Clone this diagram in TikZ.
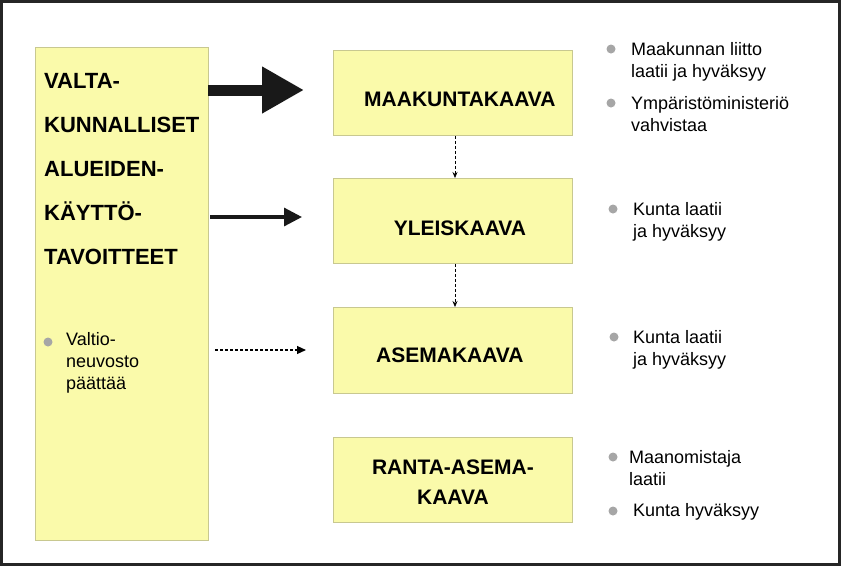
\documentclass[tikz,border=0pt]{standalone}
\usepackage{fontspec}
\setmainfont{Liberation Sans}
\usetikzlibrary{arrows.meta}
\definecolor{yfill}{HTML}{FAFAAA}
\definecolor{yline}{HTML}{C8C890}
\begin{document}
\begin{tikzpicture}[x=1pt,y=-1pt,
  ybox/.style={draw=yline, fill=yfill, line width=0.8pt, inner sep=0pt},
  btitle/.style={font=\bfseries\fontsize{21}{30}\selectfont, align=center},
  side/.style={font=\fontsize{18}{22}\selectfont, align=left, anchor=north west, inner sep=0pt},
  dot/.style={circle, fill=gray!70, inner sep=0pt, minimum size=9pt},
  sarrow/.style={densely dashed, -{Stealth[length=6pt,width=5pt]}, line width=0.7pt}]
\useasboundingbox (0,0) rectangle (841,566);
\draw[line width=3pt, draw=black!85, fill=white] (1.5,1.5) rectangle (839.5,564.5);
% left box
\node[ybox, minimum width=173pt, minimum height=493pt, anchor=north west] (L) at (35,47) {};
\node[font=\bfseries\fontsize{22}{44}\selectfont, align=left, anchor=north west, inner sep=0pt] (Lt) at (44,73)
 {VALTA-\\KUNNALLISET\\ALUEIDEN-\\KÄYTTÖ-\\TAVOITTEET};
\node[dot] (d0) at (48,342) {};
\node[side] (vt) at (66,332) {Valtio-\\neuvosto\\päättää};
% right boxes
\node[ybox, minimum width=239pt, minimum height=85pt, anchor=north west] (M) at (333,50) {};
\node[btitle] at ([xshift=7pt,yshift=-6pt]M.center) {MAAKUNTAKAAVA};
\node[ybox, minimum width=239pt, minimum height=85pt, anchor=north west] (Y) at (333,178) {};
\node[btitle] at ([xshift=7pt,yshift=-7pt]Y.center) {YLEISKAAVA};
\node[ybox, minimum width=239pt, minimum height=86pt, anchor=north west] (A) at (333,307) {};
\node[btitle] at ([xshift=-3pt,yshift=-5pt]A.center) {ASEMAKAAVA};
\node[ybox, minimum width=239pt, minimum height=85pt, anchor=north west] (R) at (333,437) {};
\node[btitle] at ([yshift=-2pt]R.center) {RANTA-ASEMA-\\KAAVA};
% arrows
\coordinate (a1s) at (208,90); \coordinate (a1e) at (304,90);
\draw[line width=11pt, -{Triangle[length=42pt,width=44pt]}, draw=black!90] (a1s) -- (a1e);
\coordinate (a2s) at (210,217); \coordinate (a2e) at (302,217);
\draw[line width=3.2pt, -{Triangle[length=18pt,width=18pt]}, draw=black!90] (a2s) -- (a2e);
\coordinate (a3s) at (215,350); \coordinate (a3e) at (306,350);
\draw[densely dashed, line width=1.2pt, -{Triangle[length=9pt,width=8pt]}] (a3s) -- (a3e);
\draw[sarrow] (M.south -| 455,0) -- (Y.north -| 455,0);
\draw[sarrow] (Y.south -| 455,0) -- (A.north -| 455,0);
% side notes
\node[dot] at (611,49) {};
\node[side] at (631,42) {Maakunnan liitto\\laatii ja hyväksyy};
\node[dot] at (611,103) {};
\node[side] at (631,96) {Ympäristöministeriö\\vahvistaa};
\node[dot] at (613,209) {};
\node[side] at (633,202) {Kunta laatii\\ja hyväksyy};
\node[dot] at (614,337) {};
\node[side] at (633,330) {Kunta laatii\\ja hyväksyy};
\node[dot] at (613,457) {};
\node[side] at (629,450) {Maanomistaja\\laatii};
\node[dot] at (613,511) {};
\node[side] at (633,503) {Kunta hyväksyy};
\end{tikzpicture}
\end{document}
